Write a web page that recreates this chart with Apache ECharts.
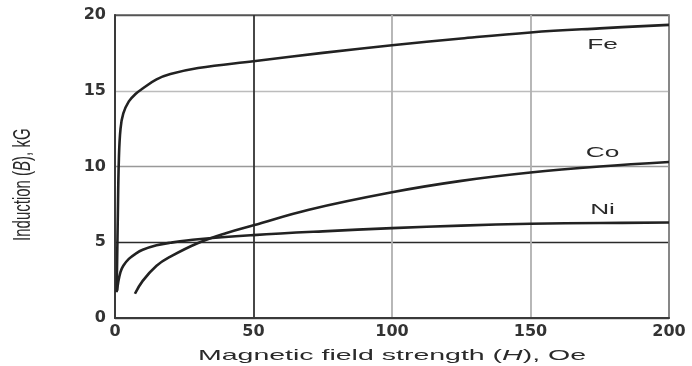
<!DOCTYPE html>
<html>
<head>
<meta charset="utf-8">
<script src="https://cdn.jsdelivr.net/npm/echarts@6/dist/echarts.min.js"></script>
<style>
html,body{margin:0;padding:0;background:#fff;}
#main{width:692px;height:366px;}
</style>
</head>
<body>
<div id="main"></div>
<script>
// ---- data ----
var feH = [0.6, 1.0, 1.4, 2.0, 3.0, 5.0, 7.5, 10, 15, 20, 30, 50, 75, 100, 125, 150, 175, 200];
var feB = [1.7, 6.5, 10.5, 12.5, 13.5, 14.3, 14.8, 15.15, 15.75, 16.1, 16.5, 16.95, 17.5, 18.0, 18.45, 18.85, 19.12, 19.35];

var coH = [7.2, 10, 15, 20, 30, 40, 50, 70, 100, 125, 150, 175, 200];
var coB = [1.6, 2.45, 3.45, 4.05, 4.95, 5.6, 6.12, 7.15, 8.3, 9.05, 9.6, 10.0, 10.3];

var niH = [0.8, 1.2, 2, 3, 5, 7.5, 10, 15, 20, 30, 50, 75, 100, 125, 150, 175, 200];
var niB = [1.8, 2.4, 3.05, 3.45, 3.9, 4.25, 4.5, 4.8, 4.97, 5.2, 5.47, 5.72, 5.93, 6.1, 6.22, 6.27, 6.3];

var xTicks = [0, 50, 100, 150, 200];
var yTicks = [0, 5, 10, 15, 20];

var curveNames = ['Fe', 'Co', 'Ni'];
var curveLabelH = [176, 176, 176];
var curveLabelB = [18.0, 10.88, 7.14];

var xTitle = 'Magnetic field strength ({i|H}), Oe';
var yTitle = 'Induction ({i|B}), kG';

// ---- build ----
function pairs(xs, ys) { return xs.map(function (x, i) { return [x, ys[i]]; }); }

// one colour per grid line, in tick order (min, ..., max)
var xSplitColors = ['#555', '#333', '#b0b0b0', '#b0b0b0', '#888'];
var ySplitColors = ['#555', '#2a2a2a', '#999', '#bcbcbc', '#555'];

var curveStyle = { color: '#222', width: 2.6 };
function curve(name, data) {
  return {
    name: name, type: 'line', data: data, showSymbol: false, symbol: 'none',
    smooth: 0.4, z: 5, silent: true,
    lineStyle: curveStyle, itemStyle: { color: '#222' }
  };
}

var labelFont = { color: '#333', fontFamily: 'DejaVu Sans', fontSize: 16, fontWeight: 'bold' };

var chart = echarts.init(document.getElementById('main'), null, { renderer: 'canvas' });
var option = {
  animation: false,
  backgroundColor: '#fff',
  grid: { left: 115, right: 23, top: 15, bottom: 48, show: true, borderColor: '#666', borderWidth: 1.6, backgroundColor: 'transparent' },
  xAxis: {
    type: 'value', min: xTicks[0], max: xTicks[xTicks.length - 1], interval: 50,
    axisLine: { show: true, lineStyle: { color: '#3a3a3a', width: 2 } },
    axisTick: { show: false },
    splitLine: { show: true, lineStyle: { color: xSplitColors, width: 1.8 } },
    axisLabel: Object.assign({ margin: 6 }, labelFont)
  },
  yAxis: {
    type: 'value', min: yTicks[0], max: yTicks[yTicks.length - 1], interval: 5,
    axisLine: { show: true, lineStyle: { color: '#3a3a3a', width: 2 } },
    axisTick: { show: false },
    splitLine: { show: true, lineStyle: { color: ySplitColors, width: 1.4 } },
    axisLabel: Object.assign({ margin: 9 }, labelFont)
  },
  series: [
    curve('Fe', pairs(feH, feB)),
    curve('Co', pairs(coH, coB)),
    curve('Ni', pairs(niH, niB))
  ]
};
chart.setOption(option);

// curve labels and axis titles (text elements positioned via the library's scales)
var graphics = [];
curveNames.forEach(function (n, i) {
  var p = chart.convertToPixel({ gridIndex: 0 }, [curveLabelH[i], curveLabelB[i]]);
  graphics.push({
    type: 'text', x: p[0], y: p[1], scaleX: 1.75, silent: true,
    style: { text: n, font: '15px "Liberation Sans", Arial, sans-serif', fill: '#2a2a2a', align: 'center', verticalAlign: 'middle' }
  });
});
var xc = chart.convertToPixel({ gridIndex: 0 }, [100, 0]);
graphics.push({
  type: 'text', x: xc[0], y: xc[1] + 38, scaleX: 1.9, silent: true,
  style: {
    text: xTitle, font: '15px "Liberation Sans", Arial, sans-serif', fill: '#2a2a2a', align: 'center', verticalAlign: 'middle',
    rich: { i: { fontStyle: 'italic', fontSize: 15, fontFamily: '"Liberation Sans", Arial, sans-serif', fill: '#2a2a2a' } }
  }
});
var yc = chart.convertToPixel({ gridIndex: 0 }, [0, 8.8]);
graphics.push({
  type: 'text', x: yc[0] - 92, y: yc[1], rotation: Math.PI / 2, scaleY: 1.6, silent: true,
  style: {
    text: yTitle, font: '15px "Liberation Sans", Arial, sans-serif', fill: '#2a2a2a', align: 'center', verticalAlign: 'middle',
    rich: { i: { fontStyle: 'italic', fontSize: 15, fontFamily: '"Liberation Sans", Arial, sans-serif', fill: '#2a2a2a' } }
  }
});
chart.setOption({ graphic: graphics });
</script>
</body>
</html>
